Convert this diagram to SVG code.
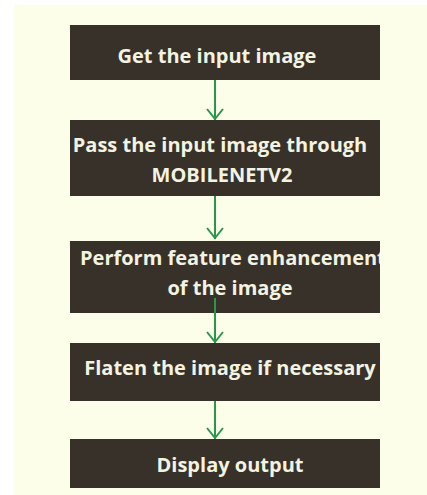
<svg xmlns="http://www.w3.org/2000/svg" width="427" height="495" viewBox="0 0 427 495">
  <style>
    .box { fill: #37312a; }
    .label { font-family: "Open Sans", "Noto Sans", sans-serif; font-weight: 700; font-size: 20px; fill: #f3f3e2; text-anchor: middle; }
    .flow { stroke: #27984a; stroke-width: 2; fill: none; }
  </style>
  <defs>
    <clipPath id="clip3"><rect x="70" y="241" width="310" height="72"/></clipPath>
  </defs>
  <rect x="0" y="0" width="427" height="495" fill="#ffffff"/>
  <rect x="14" y="5" width="413" height="490" fill="#fdfee9"/>

  <g id="connectors">
    <path class="flow" d="M215 80 V120 M207 109 L215 119 L223 109"/>
    <path class="flow" d="M215 196 V239 M207 228 L215 238 L223 228"/>
    <path class="flow" d="M215 298 V343 M207 332 L215 342 L223 332"/>
    <path class="flow" d="M215 401 V439 M207 428 L215 438 L223 428"/>
  </g>

  <g id="node-get-input">
    <rect class="box" x="70" y="25" width="310" height="55"/>
    <text class="label" x="217" y="63">Get the input image</text>
  </g>
  <g id="node-mobilenet">
    <rect class="box" x="70" y="120" width="310" height="76"/>
    <text class="label" x="220" y="152">Pass the input image through</text>
    <text class="label" x="222" y="182">MOBILENETV2</text>
  </g>
  <g id="node-enhance">
    <rect class="box" x="70" y="241" width="310" height="72"/>
    <path class="flow" d="M215 298 V313"/>
    <g clip-path="url(#clip3)">
      <text class="label" x="80" y="265" style="text-anchor:start">Perform feature enhancement</text>
    </g>
    <text class="label" x="230" y="295">of the image</text>
  </g>
  <g id="node-flatten">
    <rect class="box" x="70" y="343" width="310" height="58"/>
    <text class="label" x="230" y="375">Flaten the image if necessary</text>
  </g>
  <g id="node-display">
    <rect class="box" x="70" y="439" width="310" height="49"/>
    <text class="label" x="230" y="472">Display output</text>
  </g>
</svg>
